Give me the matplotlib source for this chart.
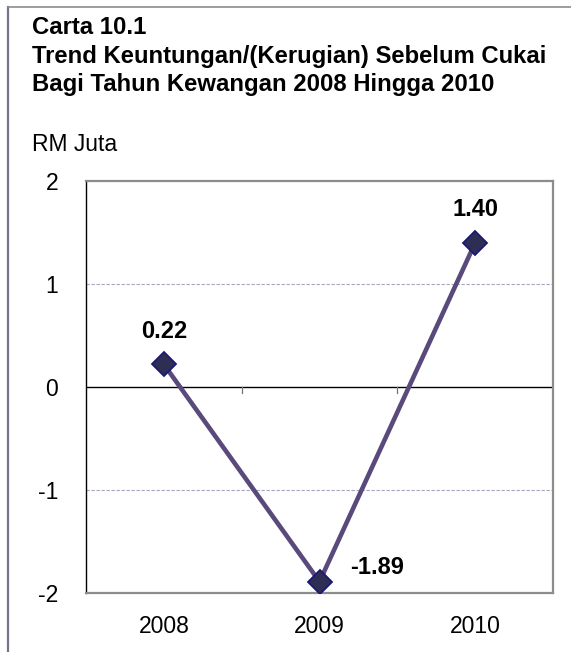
import matplotlib
matplotlib.use("Agg")
import matplotlib.pyplot as plt
from matplotlib.lines import Line2D
import numpy as np

plt.rcParams['font.family'] = ['Liberation Sans', 'DejaVu Sans']

years = ['2008', '2009', '2010']
values = [0.22, -1.89, 1.40]
value_labels = ['0.22', '-1.89', '1.40']
y_ticks = [-2, -1, 0, 1, 2]
title_lines = ['Carta 10.1',
               'Trend Keuntungan/(Kerugian) Sebelum Cukai',
               'Bagi Tahun Kewangan 2008 Hingga 2010']
unit_label = 'RM Juta'

W, H = 571, 652
fig = plt.figure(figsize=(W / 100, H / 100), dpi=100)
fig.patch.set_facecolor('white')

# outer border lines (top and left)
fig.add_artist(Line2D([8 / W, 8 / W], [0, 1 - 7 / H], color='#7a6e8e', lw=1.6))
fig.add_artist(Line2D([8 / W, 1], [1 - 7 / H, 1 - 7 / H], color='#8c8c8c', lw=1.2))

# title
ys = [27, 57, 85]
for t, yy in zip(title_lines, ys):
    fig.text(32 / W, 1 - yy / H, t, fontsize=17.2, fontweight='bold',
             ha='left', va='center', color='black')
fig.text(32 / W, 1 - 145 / H, unit_label, fontsize=16.5, ha='left', va='center')

left, right, top, bottom = 86, 553, 181, 593
ax = fig.add_axes([left / W, 1 - bottom / H, (right - left) / W, (bottom - top) / H])
x = np.arange(len(years))
ax.set_xlim(-0.5, len(years) - 0.5)
ax.set_ylim(min(y_ticks), max(y_ticks))

for s in ['top', 'right', 'bottom']:
    ax.spines[s].set_color('#8c8c8c')
    ax.spines[s].set_linewidth(1.6)
ax.spines['left'].set_color('black')
ax.spines['left'].set_linewidth(1.0)

for t in y_ticks:
    if t == 0:
        ax.axhline(t, color='black', lw=1.0, zorder=1)
    elif abs(t) != max(y_ticks):
        ax.axhline(t, color='#a8a4bc', lw=0.8, ls=(0, (3, 1.5)), zorder=1)

# category separators as small ticks on the zero line
for b in np.arange(0.5, len(years) - 0.5, 1.0):
    ax.plot([b, b], [0, -0.06], color='#777777', lw=0.9, zorder=1)

ax.plot(x, values, color='#5a4a7c', lw=3.3, zorder=3,
        marker='D', markersize=12.5, markerfacecolor='#2e2e55',
        markeredgecolor='#1a1a70', markeredgewidth=1.3)

offsets = [(0, 24), (22, 10), (0, 24)]
has = ['center', 'left', 'center']
for xi, v, lab, off, ha in zip(x, values, value_labels, offsets, has):
    ax.annotate(lab, (xi, v), xytext=off, textcoords='offset points',
                ha=ha, va='center', fontsize=17, fontweight='bold', zorder=4)

ax.set_xticks(x)
ax.set_xticklabels(years, fontsize=16.5)
ax.set_yticks(y_ticks)
ax.set_yticklabels([str(t) for t in y_ticks], fontsize=16.5)
ax.tick_params(axis='both', length=0)
ax.tick_params(axis='y', pad=20)
ax.tick_params(axis='x', pad=16)

fig.savefig('out.png', dpi=100, facecolor='white')
